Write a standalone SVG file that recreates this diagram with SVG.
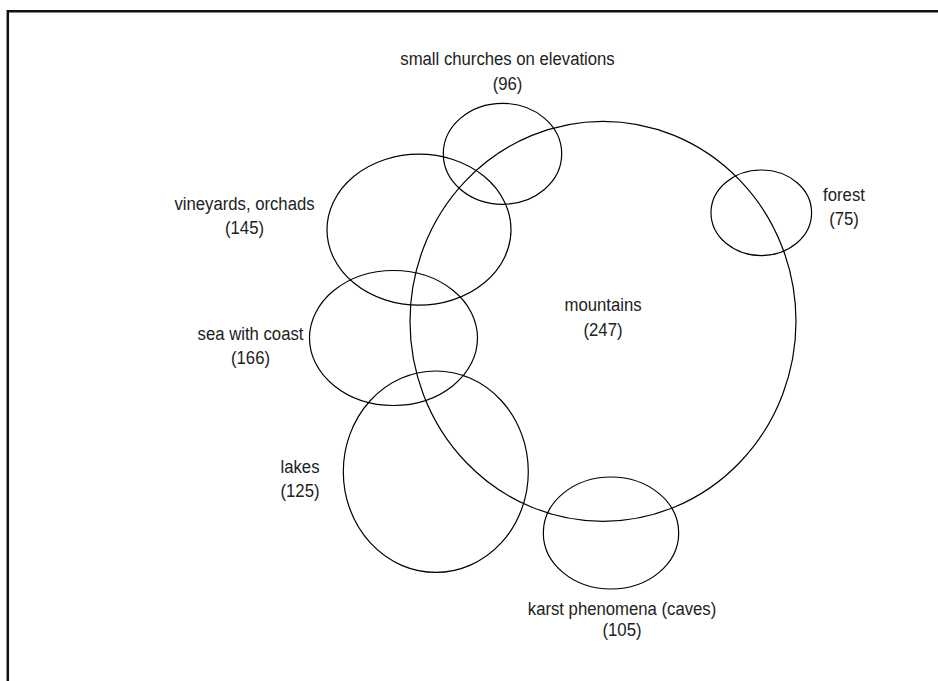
<svg xmlns="http://www.w3.org/2000/svg" width="938" height="681" viewBox="0 0 938 681">
<style>
.set{fill:none;stroke:#000;stroke-width:1.2}
.lbl{font-family:"Liberation Sans",Arial,sans-serif;font-size:19px;fill:#222;text-anchor:middle}
</style>
<rect width="938" height="681" fill="#fff"/>
<path d="M7.8,681 V11.3 H938" fill="none" stroke="#111" stroke-width="2.5"/>
<g id="mountains">
<ellipse class="set" cx="603" cy="321.3" rx="193" ry="200"/>
<text class="lbl" transform="translate(603,311) scale(0.88,1)">mountains</text>
<text class="lbl" transform="translate(603,336) scale(0.88,1)">(247)</text>
</g>
<g id="small-churches">
<ellipse class="set" cx="502.5" cy="153.8" rx="59.2" ry="50.5"/>
<text class="lbl" transform="translate(507.5,65) scale(0.88,1)">small churches on elevations</text>
<text class="lbl" transform="translate(507.5,90) scale(0.88,1)">(96)</text>
</g>
<g id="vineyards">
<ellipse class="set" cx="419" cy="229.7" rx="92" ry="75.5"/>
<text class="lbl" transform="translate(244.5,210) scale(0.88,1)">vineyards, orchads</text>
<text class="lbl" transform="translate(244.5,234) scale(0.88,1)">(145)</text>
</g>
<g id="sea">
<ellipse class="set" cx="393.5" cy="338" rx="84" ry="67.5"/>
<text class="lbl" transform="translate(250.5,340) scale(0.88,1)">sea with coast</text>
<text class="lbl" transform="translate(250.5,364) scale(0.88,1)">(166)</text>
</g>
<g id="lakes">
<ellipse class="set" cx="435.8" cy="471.7" rx="92.5" ry="100.7"/>
<text class="lbl" transform="translate(300,473) scale(0.88,1)">lakes</text>
<text class="lbl" transform="translate(300,497) scale(0.88,1)">(125)</text>
</g>
<g id="forest">
<ellipse class="set" cx="761.3" cy="212.8" rx="50.3" ry="42.8"/>
<text class="lbl" transform="translate(844,200.7) scale(0.88,1)">forest</text>
<text class="lbl" transform="translate(844,225) scale(0.88,1)">(75)</text>
</g>
<g id="karst">
<ellipse class="set" cx="611" cy="533" rx="67.7" ry="56"/>
<text class="lbl" transform="translate(622,615) scale(0.88,1)">karst phenomena (caves)</text>
<text class="lbl" transform="translate(622,636) scale(0.88,1)">(105)</text>
</g>
<g id="connectors"></g>
</svg>
